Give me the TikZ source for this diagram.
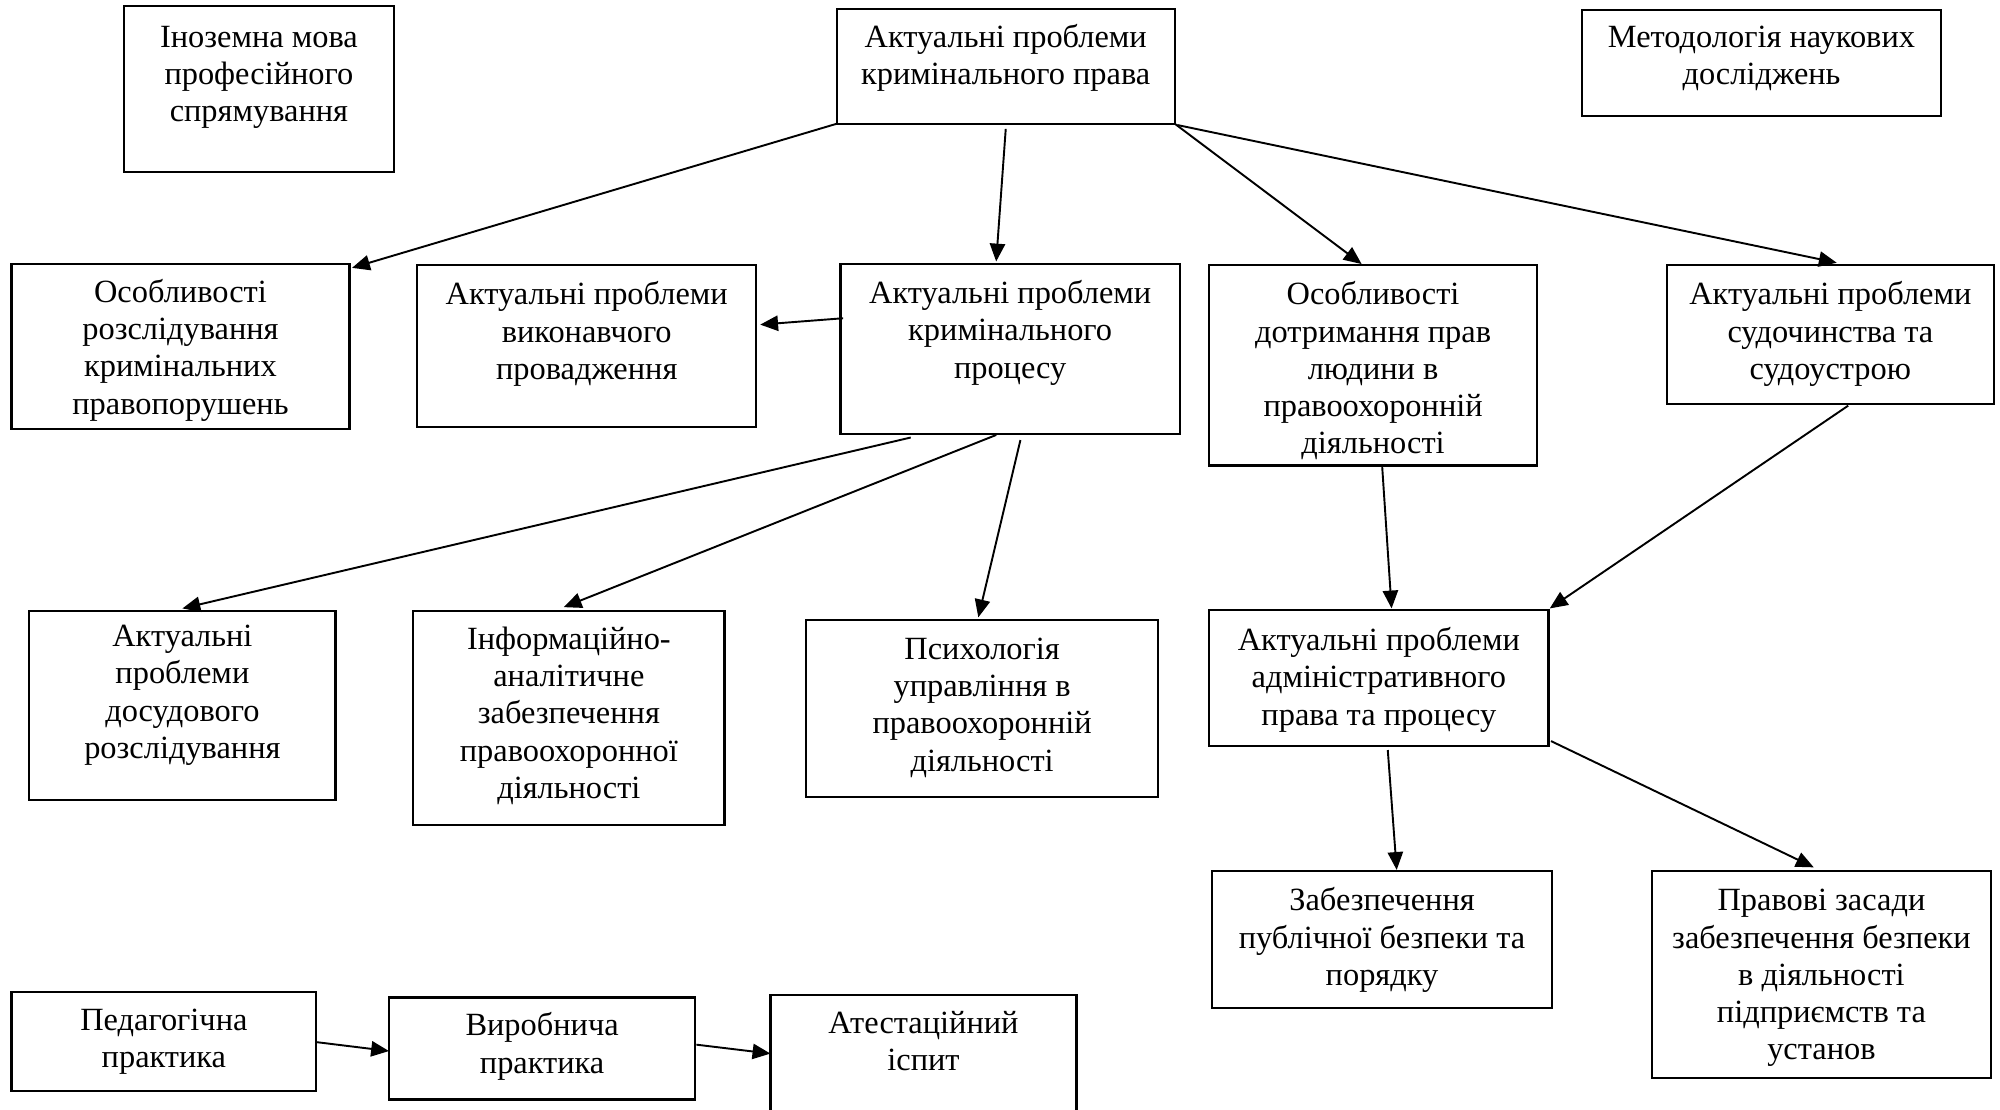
\documentclass[tikz,border=0pt]{standalone}
\usepackage{fontspec}
\setmainfont{Liberation Serif}
\usetikzlibrary{arrows.meta,calc}
\newdimen\unitpt \unitpt=0.5pt
\newcommand\boxfont{\fontsize{12.7pt}{14.6pt}\selectfont}
% name, x, y, width, height, top padding, text
\newcommand\mkbox[7]{\node[cellbox] (#1) at (#2,#3) {\parbox[t][#5\unitpt][t]{#4\unitpt}{\centering\vspace*{#6\unitpt}\boxfont\strut #7\par}};}
\begin{document}
\begin{tikzpicture}[x=0.5pt,y=-0.5pt,
  cellbox/.style={draw, line width=0.85pt, inner sep=0pt, outer sep=0pt, anchor=north west},
  arr/.style={line width=0.75pt, -{Triangle[length=7pt,width=6pt]}}]
\useasboundingbox (0,0) rectangle (1568,869.5);
\mkbox{ino}{97}{5}{212}{130}{11.6}{Іноземна мова\\професійного\\спрямування}
\mkbox{top}{656}{7}{265}{90}{9.6}{Актуальні проблеми\\кримінального права}
\mkbox{met}{1240}{8}{282}{83}{8.6}{Методологія наукових\\досліджень}
\mkbox{osr}{9}{207}{265}{129}{9.6}{Особливості\\розслідування\\кримінальних\\правопорушень}
\mkbox{vyk}{327}{208}{266}{127}{10.6}{Актуальні проблеми\\виконавчого\\провадження}
\mkbox{kp}{659}{207}{266}{133}{10.6}{Актуальні проблеми\\кримінального\\процесу}
\mkbox{osd}{948}{208}{257}{157}{10.6}{Особливості\\дотримання прав\\людини в\\правоохоронній\\діяльності}
\mkbox{sud}{1307}{208}{256}{109}{10.6}{Актуальні проблеми\\судочинства та\\судоустрою}
\mkbox{dos}{23}{479}{240}{148}{7.6}{Актуальні\\проблеми\\досудового\\розслідування}
\mkbox{inf}{324}{479}{244}{168}{9.6}{Інформаційно-\\аналітичне\\забезпечення\\правоохоронної\\діяльності}
\mkbox{psy}{632}{486}{276}{139}{10.6}{Психологія\\управління в\\правоохоронній\\діяльності}
\mkbox{adm}{948}{478}{266}{107}{11.6}{Актуальні проблеми\\адміністративного\\права та процесу}
\mkbox{zab}{950}{683}{267}{107}{10.6}{Забезпечення\\публічної безпеки та\\порядку}
\mkbox{prav}{1295}{683}{266}{162}{10.6}{Правові засади\\забезпечення безпеки\\в діяльності\\підприємств та\\установ}
\mkbox{ped}{9}{778}{239}{77}{9.6}{Педагогічна\\практика}
\mkbox{vyr}{305}{782}{240}{80}{9.6}{Виробнича\\практика}
\mkbox{att}{604}{780}{240}{120}{9.6}{Атестаційний\\іспит}
% connectors
\draw[arr] (top.south west) -- ($(osr.north east)+(2,3)$);
\draw[arr] ($(top.south)+(0,4)$) -- ($(kp.north)+(-11,-2)$);
\draw[arr] (top.south east) -- ($(osd.north)+(-9,-1)$);
\draw[arr] ($(top.south east)+(2,1)$) -- ($(sud.north)+(5,-2)$);
\draw[arr] ($(kp.west)+(2,-24)$) -- ($(vyk.east)+(3,-17)$);
\draw[arr] ($(kp.south)+(-78,3)$) -- ($(dos.north)+(0,-2)$);
\draw[arr] ($(kp.south)+(-11,1)$) -- ($(inf.north)+(-4,-3)$);
\draw[arr] ($(kp.south)+(8,5)$) -- ($(psy.north)+(-3,-2)$);
\draw[arr] ($(osd.south)+(7,-1)$) -- ($(adm.north)+(10,-1)$);
\draw[arr] ($(sud.south)+(14,1)$) -- ($(adm.north east)+(1,-1)$);
\draw[arr] ($(adm.south)+(7,3)$) -- ($(zab.north)+(11.5,-1)$);
\draw[arr] ($(adm.south east)+(2,-4)$) -- ($(prav.north)+(-6,-3)$);
\draw[arr] ($(ped.east)+(0,0.5)$) -- ($(vyr.west)+(0,2)$);
\draw[arr] ($(vyr.east)+(1,-3)$) -- ($(att.north west)+(0,46)$);
\end{tikzpicture}
\end{document}
